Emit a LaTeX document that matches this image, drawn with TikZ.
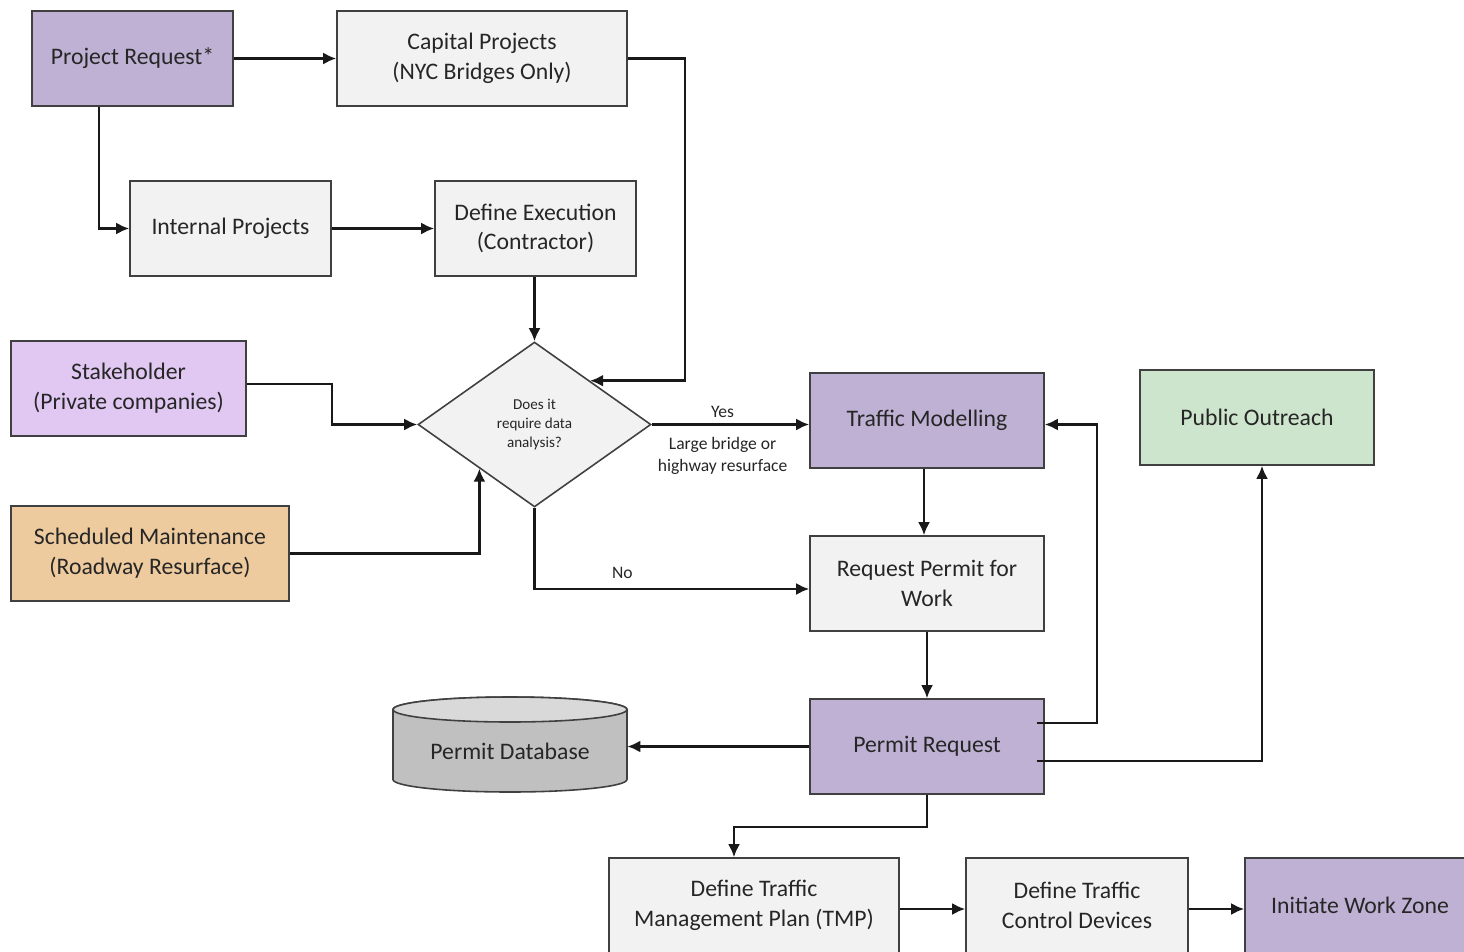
\documentclass[tikz,border=0pt]{standalone}
\usepackage{fontspec}
\setmainfont{Carlito}
\usetikzlibrary{shapes.geometric,arrows.meta,calc}
\definecolor{reqpurple}{HTML}{BFB1D4}
\definecolor{boxgray}{HTML}{F2F2F2}
\definecolor{stakelilac}{HTML}{E1C8F2}
\definecolor{maintan}{HTML}{EECB9E}
\definecolor{outgreen}{HTML}{CCE5CC}
\definecolor{dbbody}{HTML}{C0C0C0}
\definecolor{dbtop}{HTML}{D9D9D9}
\definecolor{inkgray}{HTML}{262626}
\begin{document}
\begin{tikzpicture}[x=0.02cm, y=-0.02cm,
  every node/.style={text=inkgray, font=\fontsize{13.5}{17}\selectfont},
  box/.style={rectangle, draw=black!75, line width=0.9pt, minimum height=1.9cm, align=center, inner sep=2pt},
  small/.style={font=\fontsize{10}{12.5}\selectfont, align=center},
  arr/.style={-{Latex[length=2.6mm,width=2.4mm]}, line width=1.4pt, black!90}]
  \useasboundingbox (0,0) rectangle (1464,951);
  \begin{scope}
  \clip (0,0) rectangle (1464,951);
  % boxes
  \node[box, fill=reqpurple, minimum width=4.02cm] (proj) at (132.5,58.5) {Project Request*};
  \node[box, fill=boxgray, minimum width=5.8cm] (cap) at (482,58.5) {Capital Projects\\(NYC Bridges Only)};
  \node[box, fill=boxgray, minimum width=4.02cm] (int) at (230.5,228.5) {Internal Projects};
  \node[box, fill=boxgray, minimum width=4.02cm] (exe) at (535.5,228.5) {Define Execution\\(Contractor)};
  \node[box, fill=stakelilac, minimum width=4.7cm] (stake) at (128.5,388.5) {Stakeholder\\(Private companies)};
  \node[box, fill=maintan, minimum width=5.56cm] (sched) at (150,553.5) {Scheduled Maintenance\\(Roadway Resurface)};
  \node[diamond, draw=black!75, line width=0.9pt, fill=boxgray, minimum width=4.66cm, minimum height=3.3cm, inner sep=0pt,
    font=\fontsize{8.6}{10.8}\selectfont, align=center] (dia) at (534.5,424.5) {Does it\\require data\\analysis?};
  \node[box, fill=reqpurple, minimum width=4.68cm] (traf) at (927,420.5) {Traffic Modelling};
  \node[box, fill=outgreen, minimum width=4.68cm] (pub) at (1257,417.5) {Public Outreach};
  \node[box, fill=boxgray, minimum width=4.68cm] (req) at (927,583.5) {Request Permit for\\Work};
  \node[box, fill=reqpurple, minimum width=4.68cm] (perm) at (927,746.5) {Permit Request};
  \node[box, fill=boxgray, minimum width=5.8cm] (tmp) at (754,905.5) {Define Traffic\\Management Plan (TMP)};
  \node[box, fill=boxgray, minimum width=4.44cm] (tcd) at (1077,905.5) {Define Traffic\\Control Devices};
  \node[box, fill=reqpurple, minimum width=4.6cm] (zone) at (1360,905.5) {Initiate Work Zone};
  % database cylinder
  \draw[draw=black!75, line width=0.9pt, fill=dbbody] (393,709.5) -- (393,779.5)
    arc[start angle=180, end angle=360, x radius=2.34cm, y radius=0.25cm] -- (627,709.5)
    arc[start angle=0, end angle=180, x radius=2.34cm, y radius=0.25cm] -- cycle;
  \draw[draw=black!75, line width=0.9pt, fill=dbtop] (510,709.5) ellipse[x radius=2.34cm, y radius=0.25cm];
  \node[minimum width=4.68cm, minimum height=1.6cm, inner sep=0pt] (db) at (510,751) {Permit Database};
  % points on the diamond edges
  \coordinate (diaNE) at ($(dia.north)!0.474!(dia.east)$);
  \coordinate (diaSW) at ($(dia.west)!0.53!(dia.south)$);
  % connectors
  \draw[arr] (proj.east) -- (cap.west);
  \draw[arr] ([xshift=1.36cm]proj.south west) |- (int.west);
  \draw[arr] (int.east) -- (exe.west);
  \draw[arr] (exe.south -| dia.north) -- (dia.north);
  \draw[arr] (cap.east) -- ++(57,0) |- (diaNE);
  \draw[arr] ([yshift=0.09cm]stake.east) -- ++(85,0) |- (dia.west);
  \draw[arr] (sched.east) -| (diaSW);
  \draw[arr] (dia.east) -- node[small, above, pos=0.45] {Yes}
    node[small, below=3pt, pos=0.45] {Large bridge or\\highway resurface} (dia.east -| traf.west);
  \draw[arr] (dia.south) |- node[small, above=2pt, pos=0.66] {No} ([yshift=-0.11cm]req.west);
  \draw[arr] ([xshift=-0.06cm]traf.south) -- ([xshift=-0.06cm]req.north);
  \draw[arr] (req.south) -- (perm.north);
  \draw[arr] (perm.west) -- (perm.west -| db.east);
  \draw[arr] ([xshift=-0.16cm, yshift=0.47cm]perm.east) -- ++(60,0) |- (dia.east -| traf.east);
  \draw[arr] ([xshift=-0.16cm, yshift=-0.29cm]perm.east) -| ([xshift=0.1cm]pub.south);
  \draw[arr] (perm.south) -- ++(0,32) -| ([xshift=-0.4cm]tmp.north);
  \draw[arr] ([yshift=-0.07cm]tmp.east) -- ([yshift=-0.07cm]tcd.west);
  \draw[arr] ([yshift=-0.07cm]tcd.east) -- ([yshift=-0.07cm]zone.west);
  \end{scope}
\end{tikzpicture}
\end{document}
